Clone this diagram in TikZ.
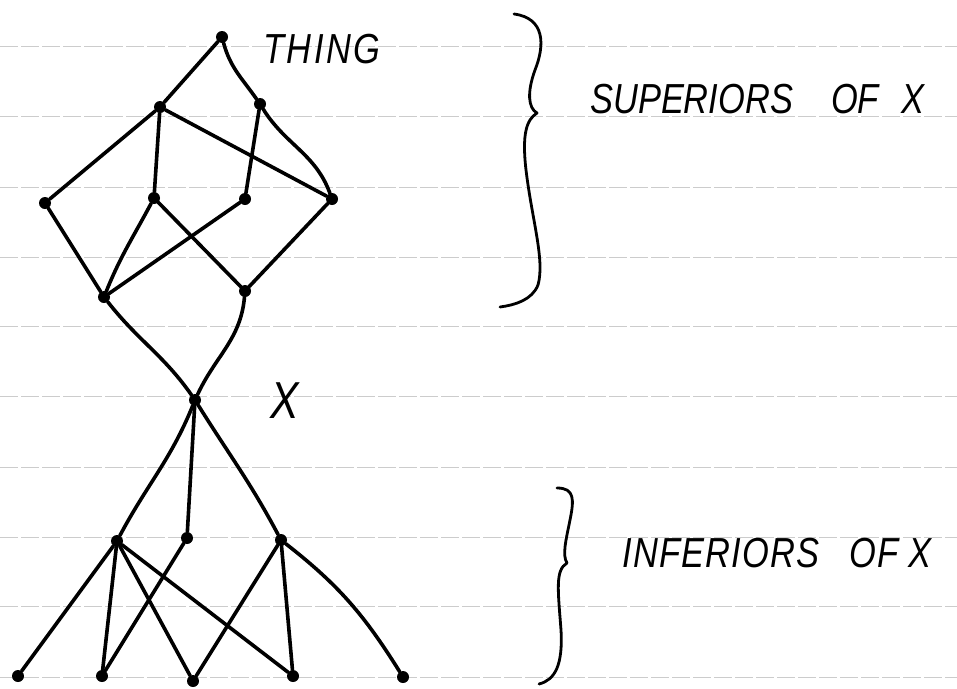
\documentclass[tikz,border=0pt]{standalone}
\usepackage{fontspec}
\setmainfont{Liberation Sans}
\newfontfamily\hand{Liberation Sans}[FakeStretch=0.82]
\begin{document}
\begin{tikzpicture}[x=1pt,y=-1pt,
  dot/.style={circle,fill=black,inner sep=0pt,minimum size=12pt},
  link/.style={line width=3.6pt,line cap=round},
  rule/.style={gray!40,line width=0.9pt,dash pattern=on 18pt off 3pt},
  lbl/.style={font=\hand\itshape\fontsize{42}{48}\selectfont,inner sep=0pt,anchor=west},
  brace/.style={line width=2.8pt,line cap=round,line join=round}]
\useasboundingbox (0,0) rectangle (957,688);
% ruled paper
\foreach \y in {46,116,187,257,326,396,467,537,606,677}
  \draw[rule] (0,\y) -- (957,\y);
% nodes
\node[dot] (thing) at (222,37) {};
\node[dot] (a1) at (160,107) {};
\node[dot] (a2) at (260,104) {};
\node[dot] (b1) at (45,203) {};
\node[dot] (b2) at (154,198) {};
\node[dot] (b3) at (245,199) {};
\node[dot] (b4) at (332,199) {};
\node[dot] (c1) at (104,297) {};
\node[dot] (c2) at (245,291) {};
\node[dot] (x) at (195,400) {};
\node[dot] (d1) at (117,541) {};
\node[dot] (d2) at (187,538) {};
\node[dot] (d3) at (281,540) {};
\node[dot] (e1) at (18,676) {};
\node[dot] (e2) at (102,676) {};
\node[dot] (e3) at (193,681) {};
\node[dot] (e4) at (293,676) {};
\node[dot] (e5) at (403,677) {};
% superiors
\draw[link] (thing) -- (a1);
\draw[link] (thing) to[out=-75,in=125] (a2);
\draw[link] (a1) -- (b1);
\draw[link] (a1) -- (b2);
\draw[link] (a1) -- (b4);
\draw[link] (a2) -- (b3);
\draw[link] (a2) to[out=-58,in=110] (b4);
\draw[link] (b1) -- (c1);
\draw[link] (b2) to[out=-118,in=68] (c1);
\draw[link] (b2) -- (c2);
\draw[link] (b3) -- (c1);
\draw[link] (b4) -- (c2);
\draw[link] (c1) to[out=-52,in=125] (x);
\draw[link] (c2) to[out=-95,in=65] (x);
% inferiors
\draw[link] (x) to[out=-112,in=62] (d1);
\draw[link] (x) -- (d2);
\draw[link] (x) to[out=-58,in=118] (d3);
\draw[link] (d1) -- (e1);
\draw[link] (d1) -- (e2);
\draw[link] (d1) -- (e3);
\draw[link] (d1) -- (e4);
\draw[link] (d2) -- (e2);
\draw[link] (d3) -- (e3);
\draw[link] (d3) -- (e4);
\draw[link] (d3) to[out=-38,in=122] (e5);
% braces
\draw[brace] (514,14) .. controls (545,18) and (545,45) .. (535,70)
  .. controls (527,92) and (528,108) .. (537,113)
  .. controls (526,120) and (522,135) .. (526,170)
  .. controls (532,220) and (545,260) .. (538,285)
  .. controls (532,300) and (515,305) .. (500,307);
\draw[brace] (557,488) .. controls (575,488) and (574,500) .. (570,520)
  .. controls (566,540) and (562,555) .. (567,563)
  .. controls (555,570) and (558,590) .. (561,630)
  .. controls (563,665) and (555,680) .. (539,684);
% labels
\node[lbl] (tl) at (263,49) {\addfontfeature{LetterSpace=6}THING};
\node[lbl] (sl) at (590,99) {SUPERIORS\hspace{38pt}OF\hspace{23pt}X};
\node[lbl] (il) at (622,553) {\addfontfeature{LetterSpace=3}INFERIORS\hspace{30pt}OF\hspace{10pt}X};
\node[lbl,font=\hand\itshape\fontsize{52}{58}\selectfont] (xl) at (270,401) {X};
\end{tikzpicture}
\end{document}
